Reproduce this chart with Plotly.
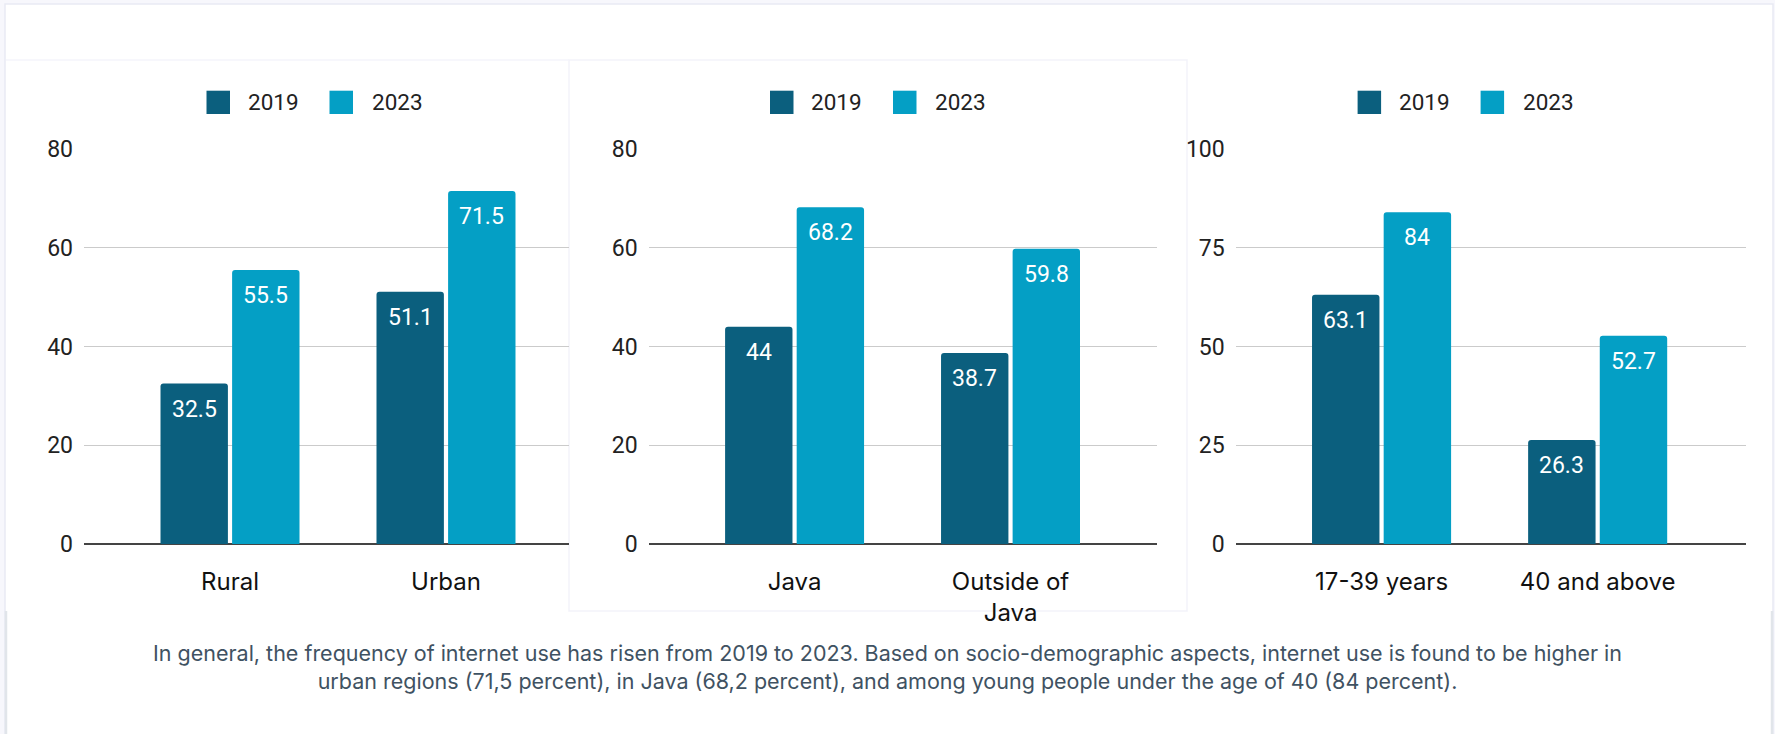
import plotly.graph_objects as go

# ---- data -------------------------------------------------------------
series_names = ["2019", "2023"]
series_colors = ["#0b5f7e", "#049fc5"]

residence_labels = ["Rural", "Urban"]
residence_2019 = [32.5, 51.1]
residence_2023 = [55.5, 71.5]

region_labels = ["Java", "Outside of<br>Java"]
region_2019 = [44, 38.7]
region_2023 = [68.2, 59.8]

age_labels = ["17-39 years", "40 and above"]
age_2019 = [63.1, 26.3]
age_2023 = [84, 52.7]

ticks_80 = [0, 20, 40, 60, 80]
ticks_100 = [0, 25, 50, 75, 100]

footnote = ("In general, the frequency of internet use has risen from 2019 to 2023. "
            "Based on socio-demographic aspects, internet use is found to be higher in<br>"
            "urban regions (71,5 percent), in Java (68,2 percent), and among young people "
            "under the age of 40 (84 percent).")

# ---- page geometry (pixels) --------------------------------------------
W, H = 1775, 734


def px(x):
    return x / W


def py(y):
    return 1 - y / H


panels = [
    dict(labels=residence_labels, values=[residence_2019, residence_2023], ticks=ticks_80,
         dom=(84, 569), xr=(-0.676, 1.5695), legend_c=313.5),
    dict(labels=region_labels, values=[region_2019, region_2023], ticks=ticks_80,
         dom=(648.6, 1156.5), xr=(-0.676, 1.676), legend_c=877),
    dict(labels=age_labels, values=[age_2019, age_2023], ticks=ticks_100,
         dom=(1235.7, 1745.9), xr=(-0.675, 1.686), legend_c=1464.6),
]

fig = go.Figure()
shapes = []
annotations = []

# card + panel backgrounds
shapes.append(dict(type="rect", xref="paper", yref="paper", x0=px(5), x1=px(1773), y0=-0.05, y1=py(4),
                    fillcolor="white", line=dict(color="#e9eaf3", width=1.5), layer="below"))
shapes.append(dict(type="line", xref="paper", yref="paper", x0=px(6), x1=px(6), y0=py(611), y1=py(734),
                    line=dict(color="#e1e5ea", width=2.5), layer="below"))
shapes.append(dict(type="line", xref="paper", yref="paper", x0=px(1772), x1=px(1772), y0=py(611), y1=py(734),
                    line=dict(color="#e1e5ea", width=2.5), layer="below"))
shapes.append(dict(type="rect", xref="paper", yref="paper", x0=px(569), x1=px(1187), y0=py(611), y1=py(60),
                    fillcolor="white", line=dict(color="#f3f3fa", width=1.5), layer="below"))
shapes.append(dict(type="line", xref="paper", yref="paper", x0=px(6), x1=px(569), y0=py(60), y1=py(60),
                    line=dict(color="#f5f5fb", width=1.5), layer="below"))

y_top, y_bot = 149, 544
bar_step = 35.8  # half of one bar slot in pixels

for i, p in enumerate(panels):
    n = "" if i == 0 else str(i + 1)
    xa, ya = "x" + n, "y" + n
    for s in range(2):
        fig.add_trace(go.Bar(
            x=[0, 1], y=p["values"][s], name=series_names[s],
            marker=dict(color=series_colors[s], cornerradius=3, line=dict(width=0)),
            xaxis=xa, yaxis=ya, showlegend=False, hoverinfo="skip",
        ))
        # value labels inside the top of each bar
        for k, v in enumerate(p["values"][s]):
            annotations.append(dict(
                x=k, y=v, xref=xa, yref=ya, text=f"{v:g}", showarrow=False,
                xshift=(-bar_step if s == 0 else bar_step), yshift=-25.5,
                yanchor="middle", xanchor="center",
                font=dict(family="Roboto", size=23, color="white"),
            ))
    fig.update_layout(**{
        "xaxis" + n: dict(domain=[px(p["dom"][0]), px(p["dom"][1])], range=list(p["xr"]),
                          tickvals=[0, 1], ticktext=p["labels"], showgrid=False, zeroline=False,
                          showline=False, ticks="", ticklabelstandoff=21, anchor=ya, automargin=False,
                          tickfont=dict(family="Inter", size=24, color="#111111"), fixedrange=True),
        "yaxis" + n: dict(domain=[py(y_bot), py(y_top)], range=[0, p["ticks"][-1]],
                          tickvals=p["ticks"], showgrid=True, gridcolor="#cbcbcb", gridwidth=1.3,
                          zeroline=True, zerolinecolor="#444444", zerolinewidth=2,
                          showline=False, ticks="", ticklabelstandoff=10, anchor=xa, automargin=False,
                          tickfont=dict(family="Roboto", size=23, color="#222222"), fixedrange=True),
    })
    # legend: colour swatch + series name
    c = p["legend_c"]
    for s, (sq, tx) in enumerate([(-107, -68), (16, 56)]):
        shapes.append(dict(type="rect", xref="paper", yref="paper",
                           x0=px(c + sq), x1=px(c + sq + 23.5), y0=py(114), y1=py(90.7),
                           fillcolor=series_colors[s], line=dict(width=0)))
        annotations.append(dict(x=px(c + tx), y=py(102.5), xref="paper", yref="paper",
                                text=series_names[s], showarrow=False, xanchor="left", yanchor="middle",
                                font=dict(family="Roboto", size=22.5, color="#222222")))

annotations.append(dict(x=px(887), y=py(667), xref="paper", yref="paper", text=footnote,
                        showarrow=False, xanchor="center", yanchor="middle", align="center",
                        font=dict(family="Inter", size=21.5, color="#3f5262")))

fig.update_layout(
    width=W, height=H, margin=dict(l=0, r=0, t=0, b=0, pad=0, autoexpand=False),
    paper_bgcolor="#f7f7fc", plot_bgcolor="rgba(0,0,0,0)",
    barmode="group", bargap=0.337, bargroupgap=0.0587,
    shapes=shapes, annotations=annotations, showlegend=False,
)

fig.write_html("out.html", config={"displayModeBar": False})
